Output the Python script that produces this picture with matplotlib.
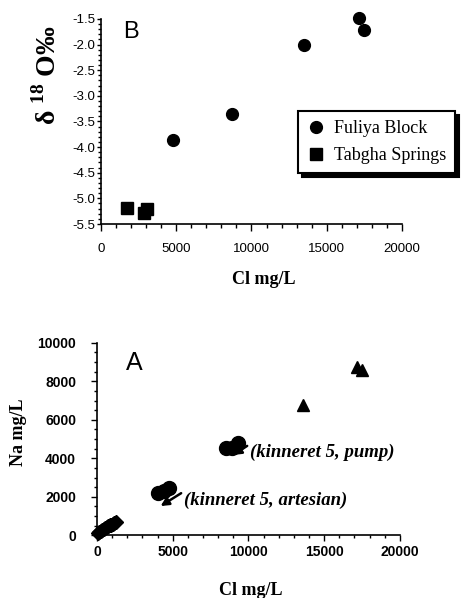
import numpy as np
import matplotlib
matplotlib.use('Agg')
import matplotlib.pyplot as plt
from matplotlib.ticker import MultipleLocator, FormatStrFormatter

plt.rcParams['font.family'] = ['Liberation Sans', 'DejaVu Sans']
plt.rcParams['mathtext.fontset'] = 'custom'
plt.rcParams['mathtext.rm'] = 'Liberation Serif'
plt.rcParams['mathtext.bf'] = 'Liberation Serif:bold'

# panel B: delta 18O vs Cl
fuliya_cl = [4800, 8700, 13500, 17150, 17480]
fuliya_d18o = [-3.86, -3.35, -2.0, -1.48, -1.71]
tabgha_cl = [1750, 2860, 3030]
tabgha_d18o = [-5.18, -5.29, -5.21]

# panel A: Na vs Cl
tri_cl = [13580, 17180, 17470]
tri_na = [6750, 8750, 8580]
pump_cl = [8500, 8900, 9300]
pump_na = [4550, 4550, 4800]
art_cl = [4000, 4400, 4750]
art_na = [2200, 2300, 2450]
low_cl = [60, 150, 250, 350, 450, 550, 650, 750, 850, 950, 1050, 1150, 1250]
low_na = [120, 170, 220, 270, 320, 370, 420, 470, 520, 560, 600, 640, 680]

serif = 'Liberation Serif'

fig = plt.figure(figsize=(4.61, 5.98), dpi=100)

# ---- top panel (B)
ax1 = fig.add_axes([0.219, 0.6254, 0.653, 0.343])
ax1.plot(fuliya_cl, fuliya_d18o, 'o', color='black', ms=8.5, clip_on=False, label='Fuliya Block')
ax1.plot(tabgha_cl, tabgha_d18o, 's', color='black', ms=8.5, clip_on=False, label='Tabgha Springs')
ax1.set_xlim(0, 20000)
ax1.set_ylim(-5.5, -1.5)
ax1.xaxis.set_major_locator(MultipleLocator(5000))
ax1.xaxis.set_minor_locator(MultipleLocator(1000))
ax1.yaxis.set_major_locator(MultipleLocator(0.5))
ax1.yaxis.set_minor_locator(MultipleLocator(0.1))
ax1.yaxis.set_major_formatter(FormatStrFormatter('%.1f'))
ax1.tick_params(axis='x', which='major', direction='out', length=5, width=1, pad=9, labelsize=9.5)
ax1.tick_params(axis='x', which='minor', direction='out', length=3, width=1)
ax1.tick_params(axis='y', which='major', direction='out', length=3, width=1, pad=1, labelsize=9.5)
ax1.tick_params(axis='y', which='minor', direction='out', length=2, width=1)
ax1.set_xlabel('Cl mg/L', family=serif, weight='bold', fontsize=13)
ax1.xaxis.set_label_coords(0.54, -0.229)
ax1.set_ylabel(r'δ $^{\mathbf{18}}$ O‰', family=serif, weight='bold', fontsize=20)
ax1.yaxis.set_label_coords(-0.13, 0.727)
ax1.text(0.073, 0.907, 'B', transform=ax1.transAxes, fontsize=17)
leg = ax1.legend(loc='upper left', bbox_to_anchor=(0.646, 0.814), bbox_transform=fig.transFigure,
                 prop={'family': serif, 'size': 13}, frameon=True, fancybox=False,
                 shadow={'color': 'black', 'alpha': 1.0, 'ox': 3, 'oy': -3},
                 edgecolor='black', handletextpad=0.5, labelspacing=0.55, borderpad=0.5,
                 handlelength=1.0, borderaxespad=0)
leg.get_frame().set_linewidth(1.5)

# ---- bottom panel (A)
ax2 = fig.add_axes([0.2104, 0.1048, 0.657, 0.322])
ax2.plot(low_cl, low_na, 'D', color='black', ms=7, clip_on=False)
ax2.plot(art_cl, art_na, 'o', color='black', ms=10)
ax2.plot(pump_cl, pump_na, 'o', color='black', ms=10)
ax2.plot(tri_cl, tri_na, '^', color='black', ms=9)
arrow = dict(arrowstyle='-|>', color='black', lw=1.8, shrinkA=0, shrinkB=0,
             mutation_scale=12, relpos=(0, 1))
ax2.annotate('(kinneret 5, pump)', xy=(8990, 4170), xytext=(10100, 4290),
             family=serif, weight='bold', style='italic', fontsize=13.5, va='center', ha='left',
             arrowprops=arrow)
ax2.annotate('(kinneret 5, artesian)', xy=(4200, 1520), xytext=(5740, 1830),
             family=serif, weight='bold', style='italic', fontsize=13.5, va='center', ha='left',
             arrowprops=arrow)
ax2.set_xlim(0, 20000)
ax2.set_ylim(0, 10000)
ax2.xaxis.set_major_locator(MultipleLocator(5000))
ax2.xaxis.set_minor_locator(MultipleLocator(1000))
ax2.yaxis.set_major_locator(MultipleLocator(2000))
ax2.yaxis.set_minor_locator(MultipleLocator(500))
ax2.tick_params(axis='both', which='major', direction='out', length=4, width=1, labelsize=10)
ax2.tick_params(axis='x', which='major', pad=3)
ax2.tick_params(axis='y', which='major', pad=11)
ax2.tick_params(axis='both', which='minor', direction='out', length=2, width=1)
for lab in ax2.get_xticklabels() + ax2.get_yticklabels():
    lab.set_fontweight('bold')
ax2.set_xlabel('Cl mg/L', family=serif, weight='bold', fontsize=13)
ax2.xaxis.set_label_coords(0.507, -0.242)
ax2.set_ylabel('Na mg/L', family=serif, weight='bold', fontsize=13)
ax2.yaxis.set_label_coords(-0.231, 0.536)
ax2.text(0.096, 0.858, 'A', transform=ax2.transAxes, fontsize=18)

for ax in (ax1, ax2):
    ax.spines['top'].set_visible(False)
    ax.spines['right'].set_visible(False)
    ax.spines['left'].set_linewidth(1.2)
    ax.spines['bottom'].set_linewidth(1.2)

fig.savefig('out.png', dpi=100)
